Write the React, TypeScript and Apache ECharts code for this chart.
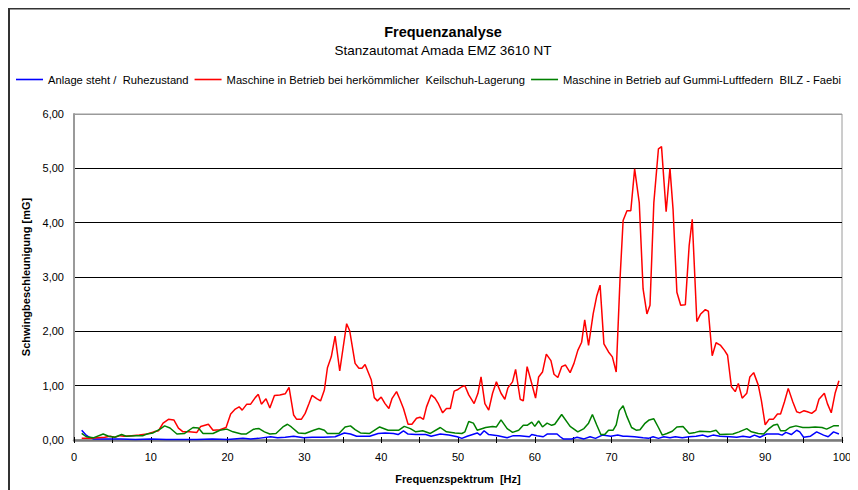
import React, { useEffect, useRef } from "react";
import * as echarts from "echarts";

const chartTitle = "Frequenzanalyse";
const chartSubtitle = "Stanzautomat Amada EMZ 3610 NT";
const seriesNames = [
  "Anlage steht /  Ruhezustand",
  "Maschine in Betrieb bei herkömmlicher  Keilschuh-Lagerung",
  "Maschine in Betrieb auf Gummi-Luftfedern  BILZ - Faebi",
];
const xAxisName = "Frequenzspektrum  [Hz]";
const yAxisName = "Schwingbeschleunigung [mG]";

// [Hz, mG]
const ruhezustand: [number, number][] = [
  [1.0, 0.18], [1.5, 0.1], [2.0, 0.05], [2.5, 0.02], [4, 0.02], [6, 0.02], [8, 0.01], [10, 0.02],
  [12, 0.01], [14, 0.01], [16, 0.01], [18, 0.02], [20, 0.01], [22, 0.03], [23, 0.02], [24, 0.03],
  [25.6, 0.06], [26.5, 0.04], [27.5, 0.05], [28.6, 0.07], [29.9, 0.04], [31, 0.05], [32.5, 0.05],
  [34, 0.06], [35.2, 0.13], [36.0, 0.11], [36.8, 0.07], [38.5, 0.07], [39.6, 0.12], [40.5, 0.13],
  [41.6, 0.12], [42.2, 0.1], [42.9, 0.17], [43.5, 0.11], [44.5, 0.1], [45.8, 0.1], [46.5, 0.07],
  [47.7, 0.11], [48.8, 0.09], [49.9, 0.06], [50.5, 0.03], [51.2, 0.07], [52.5, 0.13], [52.9, 0.09],
  [53.4, 0.17], [54.0, 0.1], [55.2, 0.08], [56.4, 0.04], [57.2, 0.08], [58.0, 0.08], [59.3, 0.06],
  [59.6, 0.1], [60.3, 0.08], [61.1, 0.06], [61.6, 0.11], [62.9, 0.11], [63.3, 0.06], [63.7, 0.02],
  [64.8, 0.02], [65.5, 0.05], [66.4, 0.02], [67.2, 0.06], [67.9, 0.03], [68.8, 0.09], [69.9, 0.07],
  [70.8, 0.09], [71.5, 0.07], [72.0, 0.07], [73.0, 0.06], [74.1, 0.04], [74.8, 0.03], [75.4, 0.06],
  [76.1, 0.03], [76.8, 0.06], [77.6, 0.04], [78.3, 0.06], [79.2, 0.04], [80.1, 0.06], [81.0, 0.07],
  [81.9, 0.09], [82.5, 0.06], [83.2, 0.09], [84.1, 0.07], [85.4, 0.06], [86.3, 0.05], [87.1, 0.07],
  [88.0, 0.05], [88.6, 0.09], [89.3, 0.05], [90.2, 0.11], [91.7, 0.11], [92.2, 0.09], [92.7, 0.14],
  [93.4, 0.1], [94.1, 0.18], [94.5, 0.15], [95.0, 0.05], [95.9, 0.07], [96.7, 0.15], [97.6, 0.09],
  [98.2, 0.06], [98.9, 0.15], [99.6, 0.11],
];

const keilschuh: [number, number][] = [
  [1.0, 0.03], [2.0, 0.03], [3.0, 0.04], [4.0, 0.05], [4.7, 0.07], [5.3, 0.05], [6.0, 0.08], [6.5, 0.07],
  [7.5, 0.08], [8.5, 0.09], [9.5, 0.11], [10.4, 0.15], [11.0, 0.17], [11.6, 0.31], [12.3, 0.38],
  [13.0, 0.37], [13.6, 0.22], [14.2, 0.15], [15.0, 0.15], [16.0, 0.14], [16.5, 0.25], [17.5, 0.29],
  [18.1, 0.18], [19.0, 0.19], [19.8, 0.23], [20.4, 0.48], [21.0, 0.57], [21.5, 0.61], [21.9, 0.55],
  [22.5, 0.66], [23.0, 0.66], [23.6, 0.78], [24.0, 0.84], [24.4, 0.66], [25.0, 0.76], [25.5, 0.59],
  [26.1, 0.82], [26.8, 0.83], [27.5, 0.85], [28.0, 0.97], [28.6, 0.46], [29.0, 0.38], [29.6, 0.38],
  [30.1, 0.49], [30.6, 0.67], [31.0, 0.82], [31.6, 0.76], [32.1, 0.72], [32.6, 0.92], [33.0, 1.33],
  [33.5, 1.53], [34.0, 1.91], [34.6, 1.27], [35.5, 2.14], [35.9, 2.01], [36.6, 1.41], [37.1, 1.32],
  [37.5, 1.32], [37.9, 1.39], [38.7, 1.11], [39.1, 0.78], [39.5, 0.72], [40.0, 0.79], [40.5, 0.67],
  [41.0, 0.58], [41.4, 0.76], [42.0, 0.89], [42.4, 0.76], [42.9, 0.58], [43.5, 0.29], [44.0, 0.29],
  [44.6, 0.4], [45.05, 0.42], [45.5, 0.38], [45.9, 0.61], [46.5, 0.83], [47.0, 0.77], [47.4, 0.68],
  [48.0, 0.5], [48.5, 0.58], [49.0, 0.58], [49.5, 0.9], [50.0, 0.93], [50.5, 0.98], [50.9, 1.0],
  [51.4, 0.83], [52.1, 0.67], [52.6, 0.86], [53.0, 1.16], [53.5, 0.67], [54.0, 0.55], [54.5, 0.86],
  [55.0, 1.07], [55.6, 0.86], [56.1, 0.75], [56.5, 0.96], [57.1, 1.07], [57.5, 1.3], [58.1, 0.75],
  [58.5, 0.72], [59.0, 1.35], [59.6, 1.04], [60.1, 0.77], [60.5, 1.16], [61.0, 1.25], [61.5, 1.58],
  [62.1, 1.46], [62.5, 1.21], [63.0, 1.15], [63.5, 1.35], [64.0, 1.38], [64.6, 1.24], [65.1, 1.41],
  [65.6, 1.65], [66.1, 1.8], [66.5, 2.21], [67.0, 1.74], [67.6, 2.32], [68.05, 2.64], [68.5, 2.85],
  [69.0, 1.77], [69.6, 1.62], [70.1, 1.53], [70.6, 1.25], [71.1, 2.97], [71.5, 4.04], [72.0, 4.22],
  [72.5, 4.22], [73.0, 4.99], [73.6, 4.37], [74.1, 2.78], [74.6, 2.32], [75.0, 2.48], [75.5, 4.37],
  [76.1, 5.36], [76.5, 5.4], [77.1, 4.2], [77.6, 5.0], [78.0, 4.25], [78.5, 2.72], [79.0, 2.48],
  [79.6, 2.49], [80.1, 3.58], [80.5, 4.06], [81.1, 2.18], [81.6, 2.32], [82.2, 2.4], [82.6, 2.37],
  [83.1, 1.55], [83.6, 1.79], [84.2, 1.74], [84.7, 1.65], [85.1, 1.56], [85.6, 0.98], [86.1, 0.89],
  [86.5, 1.04], [87.0, 0.77], [87.6, 0.86], [88.0, 1.16], [88.5, 1.24], [89.1, 1.01], [89.5, 0.73],
  [90.0, 0.28], [90.5, 0.38], [91.05, 0.38], [91.6, 0.48], [92.0, 0.48], [92.5, 0.7], [93.0, 0.95],
  [93.6, 0.7], [94.1, 0.52], [94.5, 0.5], [95.05, 0.54], [95.5, 0.52], [96.05, 0.49], [96.6, 0.55],
  [97.0, 0.75], [97.7, 0.86], [98.1, 0.67], [98.6, 0.5], [99.1, 0.86], [99.6, 1.09],
];

const gummiLuftfedern: [number, number][] = [
  [1.0, 0.12], [1.6, 0.06], [2.5, 0.04], [3.8, 0.11], [4.5, 0.07], [5.3, 0.05], [6.2, 0.1], [6.8, 0.07],
  [8.0, 0.08], [9.0, 0.08], [9.5, 0.11], [10.3, 0.13], [11.2, 0.2], [11.8, 0.26], [12.5, 0.22],
  [13.4, 0.11], [14.4, 0.12], [15.5, 0.23], [16.2, 0.22], [16.8, 0.12], [18.1, 0.12], [19.0, 0.18],
  [19.9, 0.2], [20.7, 0.15], [21.8, 0.11], [22.4, 0.11], [23.4, 0.2], [24.1, 0.21], [24.8, 0.15],
  [25.5, 0.11], [26.3, 0.12], [27.2, 0.24], [27.8, 0.29], [28.3, 0.24], [29.2, 0.13], [30.1, 0.12],
  [31.2, 0.18], [31.9, 0.21], [32.6, 0.18], [33.0, 0.12], [34.5, 0.12], [35.3, 0.24], [36.0, 0.26],
  [36.6, 0.19], [37.3, 0.13], [38.5, 0.12], [39.8, 0.24], [40.9, 0.18], [42.3, 0.18], [43.0, 0.25],
  [43.8, 0.21], [44.5, 0.15], [45.4, 0.17], [46.4, 0.12], [47.7, 0.23], [48.5, 0.15], [49.6, 0.13],
  [50.5, 0.12], [50.9, 0.15], [51.4, 0.34], [52.0, 0.31], [52.5, 0.18], [53.6, 0.23], [54.5, 0.25],
  [55.0, 0.24], [55.6, 0.37], [56.4, 0.21], [57.1, 0.14], [57.9, 0.18], [58.5, 0.27], [59.0, 0.27],
  [59.6, 0.33], [60.0, 0.25], [60.5, 0.35], [61.0, 0.24], [61.6, 0.31], [62.2, 0.27], [62.6, 0.29],
  [63.5, 0.47], [64.6, 0.25], [65.6, 0.15], [66.4, 0.21], [67.0, 0.31], [67.5, 0.47], [68.05, 0.28],
  [68.6, 0.1], [69.1, 0.1], [69.6, 0.18], [70.2, 0.18], [70.6, 0.28], [71.0, 0.54], [71.5, 0.63],
  [72.0, 0.43], [72.6, 0.23], [73.2, 0.18], [73.7, 0.19], [74.3, 0.3], [74.9, 0.37], [75.5, 0.39],
  [76.1, 0.23], [76.6, 0.09], [77.2, 0.12], [77.9, 0.16], [78.5, 0.24], [79.3, 0.25], [80.1, 0.12],
  [80.9, 0.14], [81.5, 0.16], [82.8, 0.15], [83.6, 0.18], [84.1, 0.1], [85.8, 0.11], [86.6, 0.15],
  [87.6, 0.21], [88.2, 0.15], [89.1, 0.12], [89.8, 0.11], [90.5, 0.21], [91.05, 0.27], [91.6, 0.29],
  [92.0, 0.17], [92.6, 0.17], [93.2, 0.23], [94.0, 0.26], [94.9, 0.23], [95.7, 0.23], [96.5, 0.24],
  [97.4, 0.23], [98.0, 0.2], [98.9, 0.26], [99.6, 0.26],
];

const seriesColors = ["#0000FF", "#FF0000", "#008000"];
const FONT = '"Liberation Sans", Arial, Helvetica, sans-serif';

export default function App() {
  const ref = useRef<HTMLDivElement>(null);

  useEffect(() => {
    if (!ref.current) return;
    const chart = echarts.init(ref.current, undefined, { renderer: "svg" });
    const allData = [ruhezustand, keilschuh, gummiLuftfedern];
    chart.setOption({
      animation: false,
      backgroundColor: "#ffffff",
      textStyle: { fontFamily: FONT },
      title: [
        {
          text: chartTitle,
          left: 430,
          top: 11,
          textAlign: "center",
          textStyle: { fontFamily: FONT, fontSize: 14.5, fontWeight: "bold", color: "#000" },
        },
        {
          text: chartSubtitle,
          left: 430,
          top: 30,
          textAlign: "center",
          textStyle: { fontFamily: FONT, fontSize: 13.5, fontWeight: "normal", color: "#000" },
        },
      ],
      legend: {
        left: 3,
        top: 61,
        icon: "rect",
        itemWidth: 27,
        itemHeight: 1.6,
        itemGap: 6,
        textStyle: { fontFamily: FONT, fontSize: 11.2, color: "#000" },
        data: seriesNames,
      },
      graphic: [
        {
          type: "rect",
          shape: { x: 1, y: 0.5, width: 900, height: 600 },
          style: { fill: "none", stroke: "#333333", lineWidth: 2 },
          silent: true,
        },
      ],
      grid: {
        left: 66,
        right: 16,
        top: 106,
        bottom: 50,
        show: true,
        borderColor: "#9a9a9a",
        borderWidth: 1,
      },
      xAxis: [
        {
          type: "value",
          min: 0,
          max: 100,
          interval: 5,
          name: xAxisName,
          nameLocation: "middle",
          nameGap: 33,
          nameTextStyle: { fontFamily: FONT, fontSize: 11, fontWeight: "bold", color: "#000" },
          axisLine: { show: true, lineStyle: { color: "#7a7a7a", width: 2.5 } },
          axisTick: { show: true, length: 3, lineStyle: { color: "#000", width: 1 } },
          axisLabel: {
            margin: 11,
            fontFamily: FONT,
            fontSize: 11,
            color: "#000",
            formatter: (v: number) => (v % 10 === 0 ? String(v) : ""),
          },
          splitLine: { show: false },
        },
        {
          type: "value",
          min: 0,
          max: 100,
          interval: 5,
          position: "bottom",
          axisLine: { show: false },
          axisTick: { show: true, inside: true, length: 3, lineStyle: { color: "#000", width: 1 } },
          axisLabel: { show: false },
          splitLine: { show: false },
        },
      ],
      yAxis: {
        type: "value",
        min: 0,
        max: 6,
        interval: 1,
        name: yAxisName,
        nameLocation: "middle",
        nameGap: 33,
        nameTextStyle: { fontFamily: FONT, fontSize: 11, fontWeight: "bold", color: "#000" },
        axisLine: { show: true, lineStyle: { color: "#9a9a9a", width: 2 } },
        axisTick: { show: false },
        axisLabel: {
          margin: 10,
          fontFamily: FONT,
          fontSize: 11,
          color: "#000",
          formatter: (v: number) => v.toFixed(2).replace(".", ","),
        },
        splitLine: {
          show: true,
          lineStyle: {
            color: ["#000", "#000", "#000", "#000", "#000", "#000", "#9a9a9a"],
            width: 1,
          },
        },
      },
      series: allData.map((d, i) => ({
        name: seriesNames[i],
        type: "line",
        xAxisIndex: 0,
        data: d,
        symbol: "none",
        showSymbol: false,
        lineStyle: { color: seriesColors[i], width: 1.5 },
        itemStyle: { color: seriesColors[i] },
        z: 3 + i,
      })),
    });
    return () => chart.dispose();
  }, []);

  return <div ref={ref} style={{ width: 850, height: 482 }} />;
}
